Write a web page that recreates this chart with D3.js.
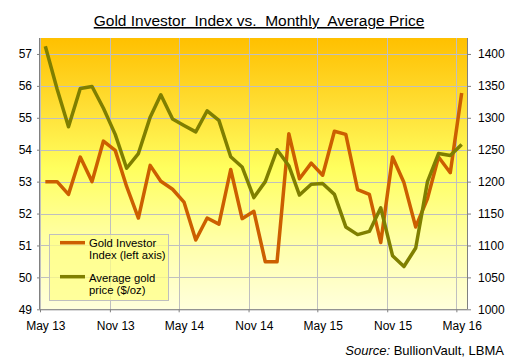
<!DOCTYPE html>
<html><head><meta charset="utf-8">
<script src="https://cdn.jsdelivr.net/npm/d3@7"></script>
<style>
html,body{margin:0;padding:0;background:#fff;}
svg{display:block;font-family:"Liberation Sans",Arial,sans-serif;}
</style></head>
<body><svg id="c" width="511" height="359"></svg>
<script>
const tickLabels = ["May 13","Nov 13","May 14","Nov 14","May 15","Nov 15","May 16"];
const tickDates = ["2013-05-01","2013-11-01","2014-05-01","2014-11-01","2015-05-01","2015-11-01","2016-05-01"];
const leftTicks = [49,50,51,52,53,54,55,56,57];
const rightTicks = [1000,1050,1100,1150,1200,1250,1300,1350,1400];
const startMonth = "2013-05-15";
const investorIndex = [53.0,53.0,52.6,53.77,53.0,54.27,53.98,52.85,51.86,53.51,53.01,52.76,52.36,51.17,51.86,51.67,53.38,51.84,52.07,50.49,50.49,54.5,53.09,53.58,53.2,54.58,54.48,52.75,52.6,51.09,53.77,52.97,51.58,52.47,53.77,53.28,55.78];
const goldPrice = [1412,1345,1286,1346,1349,1315,1274,1221,1244,1301,1336,1298,1288,1278,1311,1296,1239,1223,1175,1200,1250,1225,1179,1196,1197,1180,1129,1117,1122,1159,1084,1067,1096,1200,1244,1241,1258];
const seriesNames = [["Gold Investor","Index (left axis)"],["Average gold","price ($/oz)"]];

const parse = d3.utcParse("%Y-%m-%d");
const start = parse(startMonth);
const dates = investorIndex.map((_,i)=>d3.utcMonth.offset(start,i));

const L=40,R=467,T=38,B=309.3;
const svg = d3.select("#c");
const x = d3.scaleUtc().domain([parse("2013-05-01"),parse("2016-05-29")]).range([L,R]);
const yL = d3.scaleLinear().domain([49,57.5]).range([B,T]);
const yR = d3.scaleLinear().domain([1000,1425]).range([B,T]);

const defs = svg.append("defs");
const g = defs.append("linearGradient").attr("id","bg").attr("x1",0).attr("y1",0).attr("x2",0).attr("y2",1);
[[0,"#FFC000"],[0.28,"#FFE23A"],[0.48,"#FFFF5E"],[0.75,"#FFFFA8"],[1,"#FFFFDC"]].forEach(([o,c])=>g.append("stop").attr("offset",o).attr("stop-color",c));
svg.append("rect").attr("x",L).attr("y",T).attr("width",R-L).attr("height",B-T).attr("fill","url(#bg)");

// gridlines
svg.append("g").selectAll("line").data(leftTicks).join("line")
 .attr("x1",L).attr("x2",R).attr("y1",d=>Math.round(yL(d))+0.5).attr("y2",d=>Math.round(yL(d))+0.5)
 .attr("stroke","#BFBFBF").attr("stroke-width",1);
svg.append("g").selectAll("line").data(tickDates.map(parse)).join("line")
 .attr("x1",d=>Math.round(x(d))+0.5).attr("x2",d=>Math.round(x(d))+0.5).attr("y1",T).attr("y2",B)
 .attr("stroke","#BFBFBF").attr("stroke-width",1);

// axes
const axL = d3.axisLeft(yL).tickValues(leftTicks).tickSize(3).tickPadding(5).tickFormat(d3.format("d"));
const axR = d3.axisRight(yR).tickValues(rightTicks).tickSize(4).tickPadding(7).tickFormat(d3.format("d"));
const axB = d3.axisBottom(x).tickValues(tickDates.map(parse)).tickSize(3).tickPadding(9).tickFormat((d,i)=>tickLabels[i]);
function style(sel){
  sel.select(".domain").attr("stroke","#808080");
  sel.selectAll(".tick line").attr("stroke","#808080");
  sel.selectAll("text").attr("fill","#000").style("font-size","12px").style("font-family","'Liberation Sans',Arial,sans-serif");
}
svg.append("g").attr("transform",`translate(${L},0)`).call(axL).call(style).call(s=>s.select(".domain").attr("d",`M-0.5,${T}V${B}`));
svg.append("g").attr("transform",`translate(${R},0)`).call(axR).call(style).call(s=>s.select(".domain").attr("d",`M0.5,${T}V${B}`));
const bx = svg.append("g").attr("transform",`translate(0,${B})`).call(axB).call(style);
bx.select(".domain").attr("d",`M${L},0.5H${R}`);
bx.selectAll(".tick text").attr("dx",d=>x(d3.utcDay.offset(d,14))-x(d));

// lines
const lineL = d3.line().x((d,i)=>x(dates[i])).y(d=>yL(d));
const lineR = d3.line().x((d,i)=>x(dates[i])).y(d=>yR(d));
svg.append("path").datum(investorIndex).attr("d",lineL).attr("fill","none").attr("stroke","#CC5F00").attr("stroke-width",3.5).attr("stroke-linejoin","round");
svg.append("path").datum(goldPrice).attr("d",lineR).attr("fill","none").attr("stroke","#7F7F00").attr("stroke-width",3.5).attr("stroke-linejoin","round");

// legend
const lg = svg.append("g");
lg.append("rect").attr("x",49.5).attr("y",234.5).attr("width",119).attr("height",66).attr("fill","#FFFF88").attr("fill-opacity",0.75).attr("stroke","#BFBFBF");
const lcolors=["#CC5F00","#7F7F00"];
seriesNames.forEach((nm,k)=>{
  const y0 = 242.7 + k*34;
  lg.append("line").attr("x1",60).attr("x2",85).attr("y1",y0).attr("y2",y0).attr("stroke",lcolors[k]).attr("stroke-width",3.5);
  nm.forEach((t,j)=>lg.append("text").attr("x",89).attr("y",246.5+k*35.5+j*12.3).style("font-size","11.3px").attr("fill","#000").text(t));
});

// title
svg.append("text").attr("x",259).attr("y",26).attr("text-anchor","middle").style("font-size","15.5px").style("white-space","pre")
 .style("text-decoration","underline").attr("fill","#000").text("Gold Investor  Index vs.  Monthly  Average Price");

// source
const src = svg.append("text").attr("x",504).attr("y",355).attr("text-anchor","end").style("font-size","13px").attr("fill","#000");
src.append("tspan").style("font-style","italic").text("Source:");
src.append("tspan").text(" BullionVault, LBMA");
</script></body></html>
